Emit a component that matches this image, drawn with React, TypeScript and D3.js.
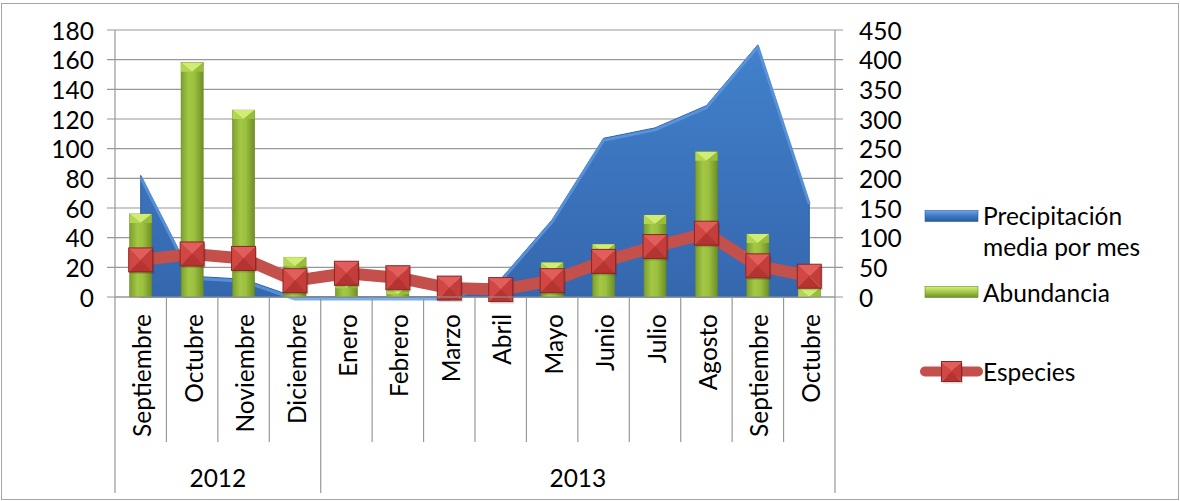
import React from "react";
import * as d3 from "d3";

const months = ["Septiembre","Octubre","Noviembre","Diciembre","Enero","Febrero","Marzo","Abril","Mayo","Junio","Julio","Agosto","Septiembre","Octubre"];
const yearLabels = ["2012", "2013"];
const yearSpans = [4, 10];
// Precipitación media por mes (left axis units)
const precipitation = [82, 14, 12, 0, 0, 0, 0, 12, 52, 107, 114, 129, 170, 64];
// Abundancia (right axis units)
const abundance = [140, 395, 315, 67, 30, 20, 0, 0, 58, 89, 138, 245, 106, 15];
// Especies (left axis units)
const species = [25, 29, 26, 11, 16, 13, 6, 5, 11, 24, 34, 43, 21, 14];
const leftTicks = [0, 20, 40, 60, 80, 100, 120, 140, 160, 180];
const rightTicks = [0, 50, 100, 150, 200, 250, 300, 350, 400, 450];
const legendLabels = [["Precipitación", "media por mes"], ["Abundancia"], ["Especies"]];

const W = 1180, H = 501;
const L = 115, R = 835, T = 30, B = 297;
const FONT = "Lato, 'Open Sans', sans-serif";
const FS = 24.5;
const GRID = "#989898";

export default function App() {
  const idx = months.map((_, i) => i);
  const xBand = d3.scaleBand<number>().domain(idx).range([L, R]).paddingInner(0.57).paddingOuter(0.285);
  const step = xBand.step();
  const cx = (i: number) => (xBand(i) as number) + xBand.bandwidth() / 2;
  const yL = d3.scaleLinear().domain([0, 180]).range([B, T]);
  const yR = d3.scaleLinear().domain([0, 450]).range([B, T]);

  const areaGen = d3.area<number>().x((_, i) => cx(i)).y0(B).y1(d => yL(d)).curve(d3.curveLinear);
  const topLine = d3.line<number>().x((_, i) => cx(i)).y(d => yL(d));
  const spLine = d3.line<number>().x((_, i) => cx(i)).y(d => yL(d));

  const bw = xBand.bandwidth();
  const ms = 24;

  const marker = (x: number, y: number, s: number, key: string) => {
    const h = s / 2;
    const x0 = x - h, x1 = x + h, y0 = y - h, y1 = y + h;
    return (
      <g key={key}>
        <rect x={x0 + 1.5} y={y0 + 2} width={s} height={s} fill="#000" opacity={0.15} />
        <polygon points={`${x0},${y0} ${x1},${y0} ${x},${y}`} fill="#E25E5C" />
        <polygon points={`${x0},${y0} ${x0},${y1} ${x},${y}`} fill="#D24744" />
        <polygon points={`${x1},${y0} ${x1},${y1} ${x},${y}`} fill="#C43D3A" />
        <polygon points={`${x0},${y1} ${x1},${y1} ${x},${y}`} fill="#B53431" />
        <rect x={x0} y={y0} width={s} height={s} fill="none" stroke="#8C2523" strokeWidth={1} />
      </g>
    );
  };

  const yearBounds: number[] = [0];
  yearSpans.forEach(s => yearBounds.push(yearBounds[yearBounds.length - 1] + s));

  return (
    <svg width={W} height={H} style={{ position: "absolute", left: 0, top: 0, background: "#fff" }} fontFamily={FONT}>
      <defs>
        <linearGradient id="areaG" x1="0" y1="0" x2="0" y2="1">
          <stop offset="0" stopColor="#4281CC" />
          <stop offset="1" stopColor="#3567AE" />
        </linearGradient>
        <linearGradient id="barG" x1="0" y1="0" x2="1" y2="0">
          <stop offset="0" stopColor="#7C9F2E" />
          <stop offset="0.35" stopColor="#A3C845" />
          <stop offset="0.6" stopColor="#9CC03F" />
          <stop offset="1" stopColor="#6E8F25" />
        </linearGradient>
        <linearGradient id="legB" x1="0" y1="0" x2="0" y2="1">
          <stop offset="0" stopColor="#6BA6E6" />
          <stop offset="0.5" stopColor="#3D78C4" />
          <stop offset="1" stopColor="#2A5A9C" />
        </linearGradient>
        <linearGradient id="legG" x1="0" y1="0" x2="0" y2="1">
          <stop offset="0" stopColor="#D4EE80" />
          <stop offset="0.5" stopColor="#A3C845" />
          <stop offset="1" stopColor="#6E8F25" />
        </linearGradient>
      </defs>

      <rect x={1.5} y={3.5} width={W - 3} height={H - 5} fill="none" stroke="#A6A6A6" strokeWidth={1} />

      {leftTicks.map(t => (
        <line key={"g" + t} x1={L - 8} x2={R + 8} y1={yL(t)} y2={yL(t)} stroke={GRID} strokeWidth={1.2} />
      ))}
      <line x1={L} x2={L} y1={T} y2={B} stroke={GRID} strokeWidth={1.2} />
      <line x1={R} x2={R} y1={T} y2={B} stroke={GRID} strokeWidth={1.2} />

      {leftTicks.map(t => (
        <text key={"l" + t} x={94} y={yL(t)} textAnchor="end" dominantBaseline="central" fontSize={FS} fill="#000">{t}</text>
      ))}
      {rightTicks.map(t => (
        <text key={"r" + t} x={859} y={yR(t)} textAnchor="start" dominantBaseline="central" fontSize={FS} fill="#000">{t}</text>
      ))}

      <path d={areaGen(precipitation) || ""} fill="url(#areaG)" stroke="#2F5E9F" strokeWidth={1} />
      <path d={topLine(precipitation) || ""} fill="none" stroke="#5E9AE0" strokeWidth={3} strokeLinejoin="round" transform="translate(0,2)" opacity={0.8} />

      {abundance.map((v, i) => {
        const x0 = xBand(i) as number;
        const yt = yR(v);
        const hgt = B - yt;
        if (hgt <= 0) return null;
        const cap = Math.min(9, hgt);
        const xm = x0 + bw / 2;
        return (
          <g key={"b" + i}>
            <rect x={x0} y={yt} width={bw} height={hgt} fill="url(#barG)" stroke="#6A8A24" strokeWidth={0.6} />
            <polygon points={`${x0},${yt} ${x0 + bw},${yt} ${xm},${yt + cap}`} fill="#D0EC74" />
            <polygon points={`${x0},${yt} ${xm},${yt + cap} ${x0},${yt + cap}`} fill="#B2D651" />
            <polygon points={`${x0 + bw},${yt} ${xm},${yt + cap} ${x0 + bw},${yt + cap}`} fill="#98BD3C" />
          </g>
        );
      })}

      <path d={spLine(species) || ""} fill="none" stroke="#C4504C" strokeWidth={12} strokeLinejoin="round" />
      {species.map((v, i) => marker(cx(i), yL(v), ms, "m" + i))}

      <line x1={L} x2={R} y1={B} y2={B} stroke={GRID} strokeWidth={1.2} />
      {d3.range(months.length + 1).map(i => {
        const x = L + i * step;
        const isYear = yearBounds.includes(i);
        return <line key={"d" + i} x1={x} x2={x} y1={B} y2={isYear ? 493 : 442} stroke={GRID} strokeWidth={1.2} />;
      })}
      {months.map((m, i) => (
        <text key={"t" + i} transform={`translate(${cx(i) + 1},314) rotate(-90)`} textAnchor="end" dominantBaseline="central" fontSize={FS} fill="#000">{m}</text>
      ))}
      {yearLabels.map((yl, k) => {
        const a = L + yearBounds[k] * step;
        const b = L + yearBounds[k + 1] * step;
        return <text key={"y" + k} x={(a + b) / 2} y={477} textAnchor="middle" dominantBaseline="central" fontSize={FS} fill="#000">{yl}</text>;
      })}

      <rect x={925} y={210.5} width={53} height={11} fill="url(#legB)" stroke="#2A5A9C" strokeWidth={0.6} />
      <text x={983} y={215} dominantBaseline="central" fontSize={FS} fill="#000">{legendLabels[0][0]}</text>
      <text x={983} y={246.5} dominantBaseline="central" fontSize={FS} fill="#000">{legendLabels[0][1]}</text>
      <rect x={925} y={286.5} width={53} height={11} fill="url(#legG)" stroke="#6A8A24" strokeWidth={0.6} />
      <text x={983} y={292} dominantBaseline="central" fontSize={FS} fill="#000">{legendLabels[1][0]}</text>
      <line x1={925} x2={978} y1={371.5} y2={371.5} stroke="#C4504C" strokeWidth={10} strokeLinecap="round" />
      {marker(951.5, 371.5, 20, "legm")}
      <text x={983} y={371} dominantBaseline="central" fontSize={FS} fill="#000">{legendLabels[2][0]}</text>
    </svg>
  );
}
